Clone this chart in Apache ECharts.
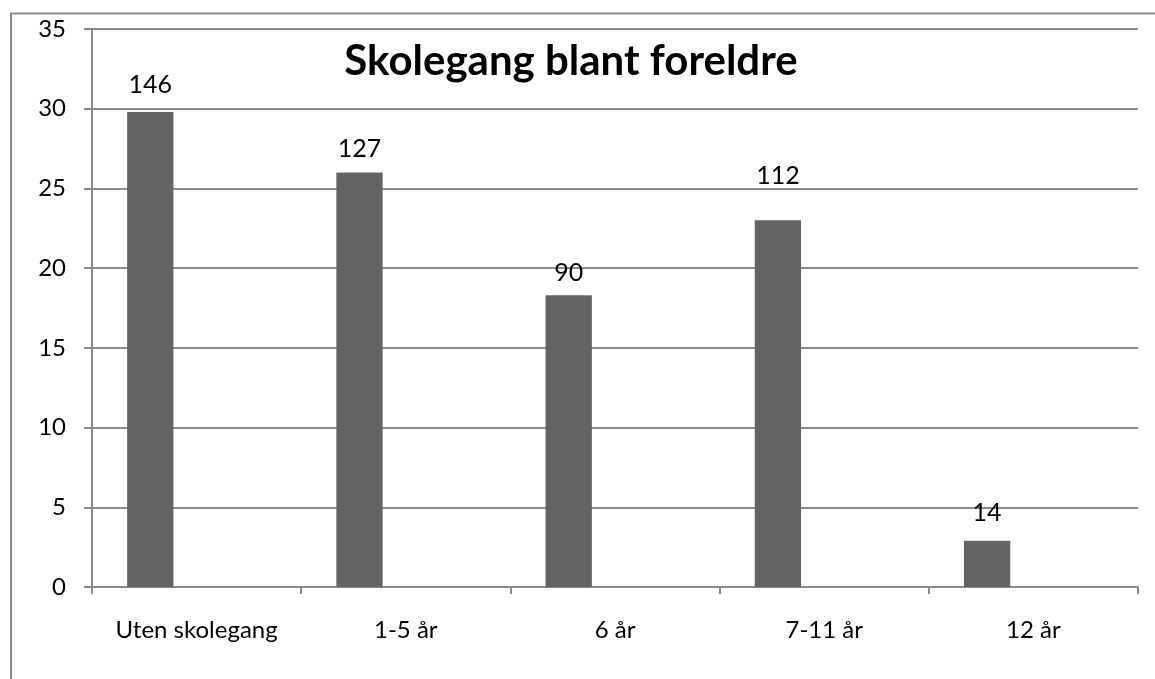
<!DOCTYPE html>
<html>
<head>
<meta charset="utf-8">
<title>Skolegang blant foreldre</title>
<script src="https://cdn.jsdelivr.net/npm/echarts@6/dist/echarts.min.js"></script>
<style>
  html, body { margin: 0; padding: 0; background: #ffffff; }
  #chart { width: 1155px; height: 679px; }
</style>
</head>
<body>
<div id="chart"></div>
<script>
// Skolegang blant foreldre – andel (%) per gruppe, antall som etikett
const categories = ['Uten skolegang', '1-5 år', '6 år', '7-11 år', '12 år'];
const percentValues = [29.8, 26.0, 18.3, 23.0, 2.9];
const countLabels = [146, 127, 90, 112, 14];
const yTicks = { min: 0, max: 35, interval: 5 };

// Label lift above each bar (px), hand-placed labels
const labelDistance = [14, 11, 10, 32, 15];

const FONT = 'Lato';
const GRID_COLOR = '#8c8c8c';

const chart = echarts.init(document.getElementById('chart'), null, { renderer: 'canvas' });

const barData = percentValues.map((v, i) => ({
  value: v,
  label: { distance: labelDistance[i] }
}));

const option = {
  animation: false,
  backgroundColor: '#ffffff',
  title: {
    text: 'Skolegang blant foreldre',
    left: 566,
    top: 35,
    textAlign: 'center',
    textStyle: { fontFamily: FONT, fontWeight: 'bold', fontSize: 42, color: '#000000' }
  },
  grid: { left: 92, right: 17, top: 29, bottom: 92, containLabel: false },
  xAxis: {
    type: 'category',
    data: categories,
    boundaryGap: true,
    axisLine: { show: true, lineStyle: { color: GRID_COLOR, width: 2 } },
    axisTick: { show: true, alignWithLabel: false, length: 7, lineStyle: { color: GRID_COLOR, width: 2 } },
    axisLabel: { margin: 31, fontFamily: FONT, fontSize: 24, color: '#000000', interval: 0 },
    splitLine: { show: false }
  },
  yAxis: {
    type: 'value',
    min: yTicks.min,
    max: yTicks.max,
    interval: yTicks.interval,
    axisLine: { show: true, lineStyle: { color: GRID_COLOR, width: 2 } },
    axisTick: { show: true, length: 8, lineStyle: { color: GRID_COLOR, width: 2 } },
    axisLabel: { margin: 26, fontFamily: FONT, fontSize: 24, color: '#000000' },
    splitLine: { show: true, lineStyle: { color: GRID_COLOR, width: 2 } }
  },
  series: [
    {
      name: 'Andel',
      type: 'bar',
      data: barData,
      barGap: '0%',
      barCategoryGap: '33.6%',
      itemStyle: { color: '#636363' },
      label: {
        show: true,
        position: 'top',
        fontFamily: FONT,
        fontSize: 25,
        color: '#000000',
        formatter: p => String(countLabels[p.dataIndex])
      }
    },
    // two empty slots per category, keeping each bar in the first third
    { name: 'tom1', type: 'bar', data: categories.map(() => '-'), barGap: '0%', barCategoryGap: '33.6%' },
    { name: 'tom2', type: 'bar', data: categories.map(() => '-'), barGap: '0%', barCategoryGap: '33.6%' }
  ],
  graphic: [
    {
      type: 'rect',
      silent: true,
      z: -1,
      shape: { x: 11, y: 13.5, width: 1200, height: 720 },
      style: { fill: 'none', stroke: GRID_COLOR, lineWidth: 2 }
    }
  ]
};

chart.setOption(option);
</script>
</body>
</html>
